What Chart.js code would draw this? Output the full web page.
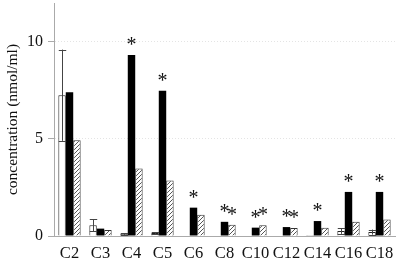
<!DOCTYPE html>
<html lang="en">
<head>
  <meta charset="UTF-8">
  <title>Concentration</title>
  <script src="https://cdn.jsdelivr.net/npm/chart.js"></script>
  <style>
    body {
      margin: 0;
      background-color: #fff;
    }
    .chart-container {
      width: 400px;
      height: 259px;
    }
  </style>
</head>
<body>
  <div class="chart-container">
    <canvas id="concChart" width="400" height="259"></canvas>
  </div>

  <script>
    const categories = ['C2', 'C3', 'C4', 'C5', 'C6', 'C8', 'C10', 'C12', 'C14', 'C16', 'C18'];
    const controlValues = [7.25, 0.55, 0.1, 0.15, 0.03, 0.03, 0.03, 0.03, 0.05, 0.26, 0.2];
    const controlErrors = [2.35, 0.3, 0.04, 0.05, 0, 0, 0, 0, 0, 0.15, 0.13];
    const blackValues = [7.4, 0.38, 9.32, 7.48, 1.46, 0.73, 0.43, 0.46, 0.77, 2.27, 2.27];
    const hatchedValues = [4.93, 0.31, 3.47, 2.86, 1.09, 0.58, 0.55, 0.41, 0.43, 0.73, 0.85];
    const blackStars = [0, 0, 1, 1, 1, 1, 1, 1, 1, 1, 1];
    const hatchedStars = [0, 0, 0, 0, 0, 1, 1, 1, 0, 0, 0];
    const yTicks = [0, 5, 10];

    Chart.defaults.font.family = "'Liberation Serif'";
    Chart.defaults.color = '#111';

    function makeHatch() {
      const c = document.createElement('canvas');
      c.width = 4;
      c.height = 4;
      const g = c.getContext('2d');
      g.fillStyle = '#fff';
      g.fillRect(0, 0, 4, 4);
      g.strokeStyle = '#555';
      g.lineWidth = 1;
      g.beginPath();
      g.moveTo(0, 4); g.lineTo(4, 0);
      g.moveTo(-1, 1); g.lineTo(1, -1);
      g.moveTo(3, 5); g.lineTo(5, 3);
      g.stroke();
      return g.createPattern(c, 'repeat');
    }

    // error bars on the control series + significance stars
    const extras = {
      id: 'extras',
      afterDatasetsDraw(chart) {
        const ctx = chart.ctx;
        const y = chart.scales.y;
        const meta0 = chart.getDatasetMeta(0);
        ctx.save();
        ctx.strokeStyle = '#444';
        ctx.lineWidth = 1;
        meta0.data.forEach((bar, i) => {
          const err = controlErrors[i];
          if (!err) return;
          const x = Math.round(bar.x) + 0.5;
          const top = y.getPixelForValue(controlValues[i] + err);
          const bot = y.getPixelForValue(Math.max(0, controlValues[i] - err));
          const w = bar.width / 2;
          ctx.beginPath();
          ctx.moveTo(x, top); ctx.lineTo(x, bot);
          ctx.moveTo(x - w, Math.round(top) + 0.5); ctx.lineTo(x + w, Math.round(top) + 0.5);
          ctx.moveTo(x - w, Math.round(bot) + 0.5); ctx.lineTo(x + w, Math.round(bot) + 0.5);
          ctx.stroke();
        });
        ctx.fillStyle = '#111';
        ctx.font = "20px 'Liberation Serif'";
        ctx.textAlign = 'center';
        ctx.textBaseline = 'alphabetic';
        [[1, blackStars], [2, hatchedStars]].forEach(([d, stars]) => {
          chart.getDatasetMeta(d).data.forEach((bar, i) => {
            if (stars[i]) ctx.fillText('*', bar.x, bar.y - 4);
          });
        });
        ctx.restore();
      }
    };

    new Chart(document.getElementById('concChart'), {
      type: 'bar',
      data: {
        labels: categories,
        datasets: [
          {
            data: controlValues,
            backgroundColor: '#fff',
            borderColor: '#222',
            borderWidth: 1
          },
          {
            data: blackValues,
            backgroundColor: '#000',
            borderColor: '#000',
            borderWidth: 0
          },
          {
            data: hatchedValues,
            backgroundColor: makeHatch(),
            borderColor: '#333',
            borderWidth: 1
          }
        ]
      },
      options: {
        responsive: false,
        animation: false,
        layout: { padding: { top: 3, right: 5, left: 0, bottom: 0 } },
        datasets: {
          bar: { categoryPercentage: 0.72, barPercentage: 1 }
        },
        plugins: {
          legend: { display: false },
          tooltip: { enabled: false }
        },
        scales: {
          x: {
            grid: { display: false, drawTicks: false },
            border: { display: true, color: '#aaa' },
            ticks: { font: { size: 16.5 }, padding: 8, maxRotation: 0, autoSkip: false },
            afterFit: (s) => { s.height = 23; s.paddingLeft = 0; s.paddingRight = 0; }
          },
          y: {
            min: 0,
            max: 12,
            afterBuildTicks: (s) => {
              s.ticks = yTicks.map(v => ({ value: v }));
            },
            grid: {
              color: (c) => c.tick && c.tick.value === 0 ? 'rgba(0,0,0,0)' : '#e4e4e4',
              tickColor: '#aaa',
              tickLength: 6
            },
            border: { display: true, color: '#aaa', dash: [1, 2] },
            ticks: { font: { size: 16 }, padding: 5 },
            title: {
              display: true,
              text: 'concentration (nmol/ml)',
              font: { size: 15.5 },
              padding: { top: 4, bottom: 0 }
            },
            afterFit: (s) => { s.width = 54; s.paddingTop = 0; s.paddingBottom = 0; }
          }
        }
      },
      plugins: [extras]
    });
  </script>
</body>
</html>
